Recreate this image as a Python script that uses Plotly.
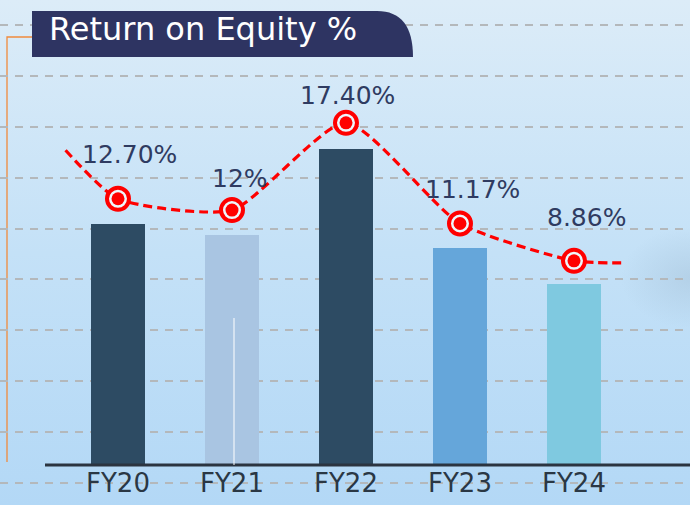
import base64
import plotly.graph_objects as go

# ---------------- data ----------------
categories = ["FY20", "FY21", "FY22", "FY23", "FY24"]
roe = [12.70, 12.00, 17.40, 11.17, 8.86]
roe_labels = ["12.70%", "12%", "17.40%", "11.17%", "8.86%"]
# dashed trend line lead-in (before FY20) and tail (after FY24) values
trend_lead = 15.7
trend_tail = 8.73

# ---------------- style ----------------
W, H = 690, 505
FONT = "DejaVu Sans"
bar_colors = ["#2d4b63", "#a9c5e2", "#2d4b63", "#65a6da", "#7fc9e0"]
label_dx = [12, 8, 2, 13, 13]
label_dy = [44, 32, 27, 34, 43]
LEAD_DX = 0.46
BAR_BASE = -2.61          # axis value at the baseline for bars
BASE_PX = 465


def px(x, y):
    return x / W, 1 - y / H


# background gradient as an svg image
svg = f'''<svg xmlns="http://www.w3.org/2000/svg" width="{W}" height="{H}">
<defs>
<linearGradient id="g" x1="0" y1="0" x2="0" y2="1">
<stop offset="0" stop-color="#dcecf8"/>
<stop offset="0.5" stop-color="#c4e1f7"/>
<stop offset="1" stop-color="#b3d8f6"/>
</linearGradient>
<radialGradient id="r" cx="1" cy="0.55" r="0.1">
<stop offset="0" stop-color="#a3bfd6" stop-opacity="0.45"/>
<stop offset="1" stop-color="#a3bfd6" stop-opacity="0"/>
</radialGradient>
</defs>
<rect width="{W}" height="{H}" fill="url(#g)"/>
<rect width="{W}" height="{H}" fill="url(#r)"/>
</svg>'''
bg_uri = "data:image/svg+xml;base64," + base64.b64encode(svg.encode()).decode()

xs = list(range(len(categories)))

fig = go.Figure()

# bars
fig.add_trace(go.Bar(
    x=xs, y=[v - BAR_BASE for v in roe], base=BAR_BASE,
    marker=dict(color=bar_colors, line=dict(width=0)),
    width=0.48, yaxis="y", hoverinfo="skip",
))

# trend line (dashed spline)
line_x = [xs[0] - LEAD_DX] + xs + [xs[-1] + LEAD_DX]
line_y = [trend_lead] + roe + [trend_tail]
fig.add_trace(go.Scatter(
    x=line_x, y=line_y, mode="lines", yaxis="y2",
    line=dict(color="#ff0000", width=3.2, dash="9px,5px", shape="spline", smoothing=0.6),
    hoverinfo="skip",
))
# ring markers
fig.add_trace(go.Scatter(
    x=xs, y=roe, mode="markers", yaxis="y2",
    marker=dict(symbol="circle", size=22, color="#eef6fc",
                line=dict(color="#ff0000", width=4)),
    hoverinfo="skip",
))
fig.add_trace(go.Scatter(
    x=xs, y=roe, mode="markers", yaxis="y2",
    marker=dict(symbol="circle", size=13, color="#ff0000"),
    hoverinfo="skip",
))

annotations = []
for i, (v, t) in enumerate(zip(roe, roe_labels)):
    annotations.append(dict(
        x=xs[i], y=v, xref="x", yref="y2", text=t, showarrow=False,
        xshift=label_dx[i], yshift=label_dy[i], xanchor="center", yanchor="middle",
        font=dict(family=FONT, size=25, color="#2f3b61"),
    ))

# title text
tx, ty = px(47, 29)
annotations.append(dict(
    x=tx, y=ty, xref="paper", yref="paper", text="Return on Equity %",
    showarrow=False, xanchor="left", yanchor="middle",
    font=dict(family=FONT, size=32, color="#ffffff"),
))

shapes = []
# title box with rounded top-right corner
a = px(32, 11); b = px(377, 11); c = px(413, 11); d = px(413, 57); e = px(32, 57)
shapes.append(dict(
    type="path", xref="paper", yref="paper", layer="above",
    path=f"M {a[0]},{a[1]} L {b[0]},{b[1]} Q {c[0]},{c[1]} {d[0]},{d[1]} L {e[0]},{e[1]} Z",
    fillcolor="#2e3462", line=dict(width=0),
))
# orange bracket line at left
o1 = px(7, 462); o2 = px(7, 37); o3 = px(32, 37)
shapes.append(dict(
    type="path", xref="paper", yref="paper", layer="below",
    path=f"M {o1[0]},{o1[1]} L {o2[0]},{o2[1]} L {o3[0]},{o3[1]}",
    line=dict(color="#f08a3c", width=1.3),
))
# baseline
b1 = px(45, BASE_PX); b2 = px(690, BASE_PX)
shapes.append(dict(
    type="line", xref="paper", yref="paper", layer="above",
    x0=b1[0], y0=b1[1], x1=b2[0], y1=b2[1],
    line=dict(color="#2b3440", width=3),
))
# thin white artifact line in FY21 bar
w1 = px(234, 318); w2 = px(234, BASE_PX)
shapes.append(dict(
    type="line", xref="paper", yref="paper", layer="above",
    x0=w1[0], y0=w1[1], x1=w2[0], y1=w2[1],
    line=dict(color="#ffffff", width=1),
))

# axis ranges (bars: 15.77 px per unit, lines: 16.16 px per unit)
bar_ppu = 15.77
y_lo = BAR_BASE - (H - BASE_PX) / bar_ppu
y_hi = BAR_BASE + BASE_PX / bar_ppu
grid_tick0 = BAR_BASE - 18 / bar_ppu
grid_dtick = 50.9 / bar_ppu

line_ppu = 16.16
l_zero_px = 404
y2_lo = -(H - l_zero_px) / line_ppu
y2_hi = l_zero_px / line_ppu

fig.update_layout(
    width=W, height=H,
    margin=dict(l=0, r=0, t=0, b=0),
    paper_bgcolor="#c6e1f6", plot_bgcolor="rgba(0,0,0,0)",
    showlegend=False, hovermode=False,
    bargap=0,
    images=[dict(source=bg_uri, xref="paper", yref="paper", x=0, y=1,
                 sizex=1, sizey=1, sizing="stretch", layer="below")],
    xaxis=dict(
        range=[-1.035, -1.035 + W / 114], domain=[0, 1],
        tickvals=xs, ticktext=categories,
        tickfont=dict(family=FONT, size=26, color="#2a3744"),
        showgrid=False, zeroline=False, showline=False, ticks="",
        anchor="free", position=(H - BASE_PX) / H, fixedrange=True,
    ),
    yaxis=dict(
        range=[y_lo, y_hi], domain=[0, 1],
        tick0=grid_tick0, dtick=grid_dtick, tickmode="linear",
        showgrid=True, gridcolor="#b4b8bb", gridwidth=1.5, griddash="8px,7px",
        showticklabels=False, zeroline=False, showline=False, ticks="", fixedrange=True,
    ),
    yaxis2=dict(
        range=[y2_lo, y2_hi], overlaying="y", visible=False, fixedrange=True,
    ),
    annotations=annotations,
    shapes=shapes,
)

fig.write_html(
    "out.html",
    config={"displayModeBar": False},
    post_script="document.body.style.margin='0';document.body.style.overflow='hidden';",
)
